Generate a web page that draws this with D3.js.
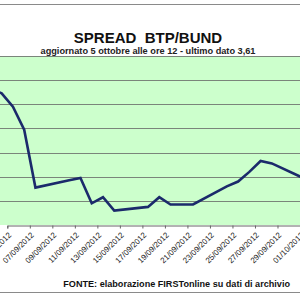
<!DOCTYPE html>
<html><head><meta charset="utf-8">
<script src="https://cdn.jsdelivr.net/npm/d3@7"></script>
<style>html,body{margin:0;padding:0;background:#fff;overflow:hidden}svg{display:block}</style>
</head><body>
<script>
// ---- data ----
const dates = ["2012-09-03","2012-09-04","2012-09-05","2012-09-06","2012-09-07",
  "2012-09-10","2012-09-11","2012-09-12","2012-09-13","2012-09-14",
  "2012-09-17","2012-09-18","2012-09-19","2012-09-20","2012-09-21",
  "2012-09-24","2012-09-25","2012-09-26","2012-09-27","2012-09-28",
  "2012-10-01","2012-10-02","2012-10-03","2012-10-04","2012-10-05"];
const spread = [4.33,4.29,4.18,3.99,3.51,
  3.57,3.59,3.38,3.43,3.32,
  3.35,3.43,3.37,3.37,3.37,
  3.52,3.56,3.64,3.73,3.71,
  3.58,3.55,3.50,3.54,3.61];
const yTicks = [3.2,3.4,3.6,3.8,4.0,4.2,4.4,4.6];
const xTickLabels = ["05/09/2012","07/09/2012","09/09/2012","11/09/2012","13/09/2012",
  "15/09/2012","17/09/2012","19/09/2012","21/09/2012","23/09/2012","25/09/2012",
  "27/09/2012","29/09/2012","01/10/2012"];
const titleText = "SPREAD  BTP/BUND";
const subtitleText = "aggiornato 5 ottobre alle ore 12 - ultimo dato 3,61";
const sourceText = "FONTE: elaborazione FIRSTonline su dati di archivio";

const W = 300, H = 300;
const parse = d3.timeParse("%Y-%m-%d");
const parseTick = d3.timeParse("%d/%m/%Y");
const fmt = d3.timeFormat("%d/%m/%Y");
const data = dates.map((d,i)=>({date: d3.timeHour.offset(parse(d),12), v: spread[i]}));

const svg = d3.select("body").append("svg").attr("width",W).attr("height",H)
  .style("font-family","'Liberation Sans', Arial, sans-serif");

const plotTop = 56, plotBottom = 225, plotLeft = -40, plotRight = 340;
const x = d3.scaleTime().domain([parse("2012-09-05"), parse("2012-10-01")]).range([7.3, 300]);
const y = d3.scaleLinear().domain([3.2, 4.6]).range([plotBottom, plotTop]);

// outer border lines
svg.append("line").attr("x1",0).attr("x2",W).attr("y1",4.5).attr("y2",4.5).attr("stroke","#8a8a8a");
svg.append("line").attr("x1",0).attr("x2",W).attr("y1",292.5).attr("y2",292.5).attr("stroke","#8a8a8a");

// plot area
svg.append("rect").attr("x",plotLeft).attr("y",plotTop).attr("width",plotRight-plotLeft)
  .attr("height",plotBottom-plotTop).attr("fill","#ccffcc");

svg.append("g").selectAll("line").data(yTicks.slice(1)).join("line")
  .attr("x1",plotLeft).attr("x2",plotRight)
  .attr("y1",d=>Math.round(y(d))+0.5).attr("y2",d=>Math.round(y(d))+0.5)
  .attr("stroke","#7a857a").attr("stroke-width",1);

// x axis
const xTicks = xTickLabels.map(parseTick);
const xAxis = d3.axisBottom(x).tickValues(xTicks).tickSize(3).tickFormat(fmt);
const gx = svg.append("g").attr("transform",`translate(0,${plotBottom+0.5})`).call(xAxis);
gx.select(".domain").attr("stroke","#666");
gx.selectAll(".tick line").attr("stroke","#666");
gx.selectAll(".tick text")
  .attr("font-size","8px").attr("fill","#222")
  .attr("text-anchor","end").attr("dy",null).attr("y",null)
  .attr("transform","translate(4,10) rotate(-45)");

// line
svg.append("clipPath").attr("id","clip").append("rect")
  .attr("x",plotLeft).attr("y",plotTop).attr("width",plotRight-plotLeft).attr("height",plotBottom-plotTop);
svg.append("path").datum(data).attr("clip-path","url(#clip)")
  .attr("fill","none").attr("stroke","#1b2a6b").attr("stroke-width",2.6)
  .attr("stroke-linejoin","miter")
  .attr("d", d3.line().x(d=>x(d.date)).y(d=>y(d.v)));

// titles
svg.append("text").attr("x",148).attr("y",42.7).attr("text-anchor","middle")
  .attr("font-size","15px").attr("font-weight","bold").attr("fill","#111")
  .style("white-space","pre").text(titleText);
svg.append("text").attr("x",148).attr("y",54).attr("text-anchor","middle")
  .attr("font-size","9.2px").attr("font-weight","bold").attr("fill","#222").text(subtitleText);
svg.append("text").attr("x",290).attr("y",286.5).attr("text-anchor","end")
  .attr("font-size","9.1px").attr("font-weight","bold").attr("fill","#111").text(sourceText);
</script>
</body></html>
